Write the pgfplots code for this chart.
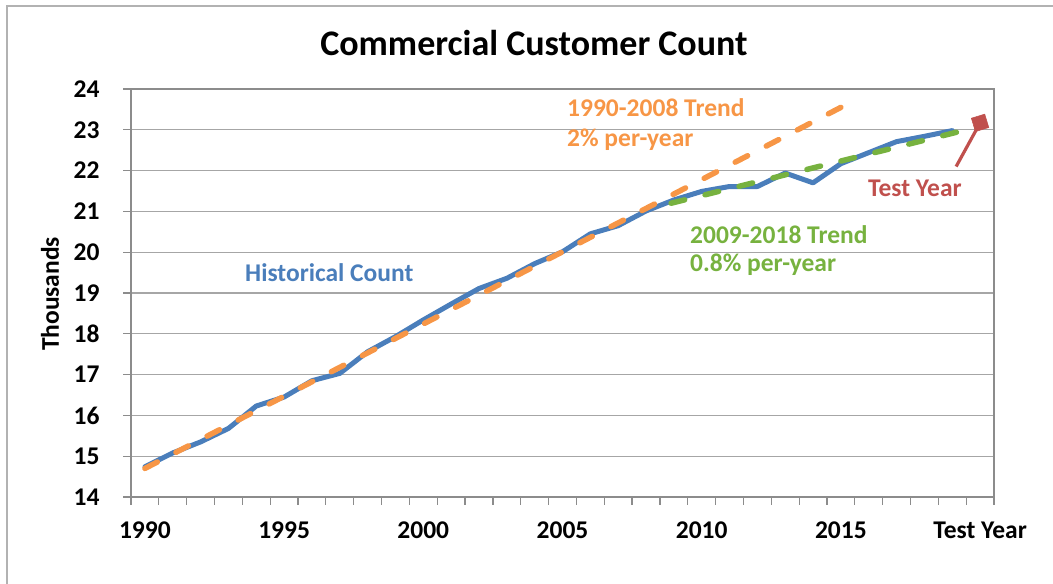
\documentclass[border=0pt]{standalone}
\usepackage{fontspec}
\setmainfont{Carlito}
\usepackage{pgfplots}
\pgfplotsset{compat=1.18}
\definecolor{cblue}{HTML}{4A7EBB}
\definecolor{corange}{HTML}{F79646}
\definecolor{cgreen}{HTML}{77B23F}
\definecolor{cred}{HTML}{C0504D}
\definecolor{cgrid}{HTML}{A6A6A6}
\definecolor{caxis}{HTML}{8C8C8C}
\begin{document}
\begin{tikzpicture}
\useasboundingbox (0pt,0pt) rectangle (1053pt,584pt);
\draw[color=black!30, line width=1.5pt] (7pt,-20pt) -- (7pt,578pt) -- (1080pt,578pt);
\begin{axis}[
  at={(131pt,87pt)}, anchor=south west,
  scale only axis, width=863pt, height=408pt,
  xmin=1989.5, xmax=2020.5, ymin=14, ymax=24,
  xtick={1989.5,1990.5,...,2020.5}, xticklabels={},
  extra x ticks={1990,1995,2000,2005,2010,2015,2020},
  extra x tick labels={1990,1995,2000,2005,2010,2015,Test Year},
  extra x tick style={major tick length=0pt, grid=none,
     xticklabel style={anchor=center, yshift=-33pt}},
  ytick={14,15,...,24},
  yticklabel style={anchor=east, xshift=-20pt},
  tick align=outside, tick pos=left,
  major tick length=8pt,
  tick style={color=caxis, line width=1.2pt},
  ymajorgrids,
  grid style={color=cgrid, line width=1.3pt},
  axis line style={color=caxis, line width=1.5pt},
  ticklabel style={font=\bfseries\fontsize{25.5}{29}\selectfont},
  /pgf/number format/assume math mode=true,
  /pgf/number format/1000 sep={},
  clip=false,
]
\addplot[cblue, line width=5pt, line join=round, line cap=round] coordinates {
(1990,14.74) (1991,15.08) (1992,15.35) (1993,15.68) (1994,16.23) (1995,16.45)
(1996,16.85) (1997,17.03) (1998,17.56) (1999,17.93) (2000,18.34) (2001,18.73)
(2002,19.11) (2003,19.36) (2004,19.72) (2005,20.01) (2006,20.45) (2007,20.65)
(2008,21.01) (2009,21.28) (2010,21.49) (2011,21.61) (2012,21.61) (2013,21.94)
(2014,21.70) (2015,22.17) (2016,22.44) (2017,22.71) (2018,22.84) (2019,22.98)
};
\addplot[corange, line width=5.5pt, line cap=round, dash pattern=on 14pt off 21pt] coordinates {
(1990,14.70) (2015,23.55)
};
\addplot[cgreen, line width=5.5pt, line cap=round, dash pattern=on 14pt off 21pt] coordinates {
(2008.9,21.20) (2020.1,23.10)
};
\addplot[cred, line width=3.2pt, mark=square*, mark indices={2}, mark size=7pt,
  mark options={solid, fill=cred, draw=cred, line width=0.5pt, rotate=17}] coordinates {
(2019.14,22.10) (2020,23.17)
};
\end{axis}
\node[font=\bfseries\fontsize{36}{40}\selectfont] at (534pt,541pt) {Commercial Customer Count};
\node[font=\bfseries\fontsize{25.5}{29}\selectfont, rotate=90] at (50pt,290pt) {Thousands};
\node[font=\bfseries\fontsize{25.5}{29}\selectfont, text=corange, anchor=west, inner sep=0pt] at (567pt,476pt) {1990-2008 Trend};
\node[font=\bfseries\fontsize{25.5}{29}\selectfont, text=corange, anchor=west, inner sep=0pt] at (567pt,444pt) {2\% per-year};
\node[font=\bfseries\fontsize{25.5}{29}\selectfont, text=cgreen, anchor=west, inner sep=0pt] at (690pt,349pt) {2009-2018 Trend};
\node[font=\bfseries\fontsize{25.5}{29}\selectfont, text=cgreen, anchor=west, inner sep=0pt] at (690pt,319pt) {0.8\% per-year};
\node[font=\bfseries\fontsize{25.5}{29}\selectfont, text=cblue, anchor=west, inner sep=0pt] at (245pt,311pt) {Historical Count};
\node[font=\bfseries\fontsize{25.5}{29}\selectfont, text=cred, anchor=west, inner sep=0pt] at (868pt,396pt) {Test Year};
\end{tikzpicture}
\end{document}
